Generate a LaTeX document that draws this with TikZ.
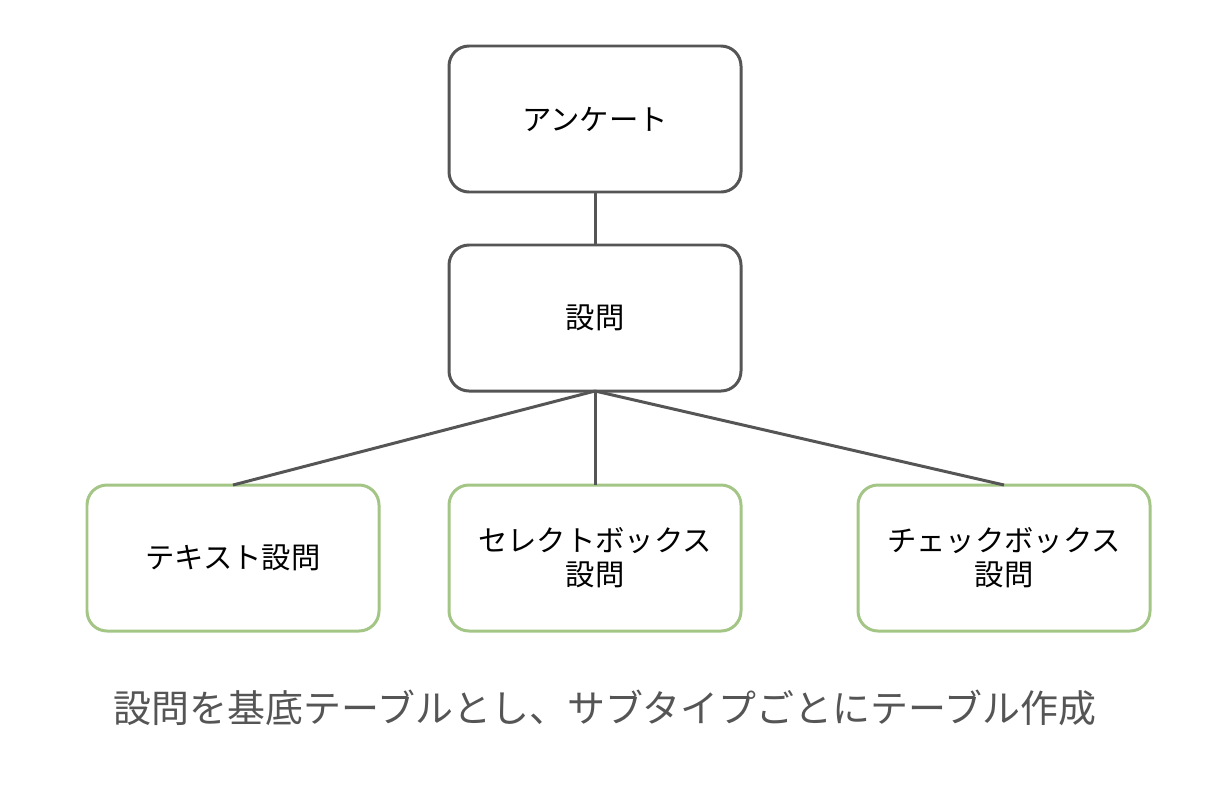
\documentclass[tikz,border=0pt]{standalone}
\usepackage{fontspec}
\setmainfont{Noto Sans CJK JP}
\usetikzlibrary{positioning}
\definecolor{edgegray}{HTML}{555555}
\definecolor{subgreen}{HTML}{A3C585}

\begin{document}
\begin{tikzpicture}[node distance=1cm,
box/.style={draw=edgegray, line width=1.7pt, rounded corners=0.4cm, text centered, text width=5.6cm, minimum width=5.84cm, minimum height=2.92cm, outer sep=0pt, font=\fontsize{16.7pt}{19.5pt}\selectfont},
subbox/.style={box, draw=subgreen},
link/.style={draw=edgegray, line width=1.7pt}
]
\useasboundingbox (0,0) rectangle (24.4,-15.96);

\node (survey) [box] at (11.9,-2.38) {アンケート};
\node (question) [box, below=1.06cm of survey] {設問};
\node (selectq) [subbox, below=1.88cm of question] {セレクトボックス\\設問};
\node (textq) [subbox, left=1.4cm of selectq] {テキスト設問};
\node (checkq) [subbox, right=2.34cm of selectq] {チェックボックス\\設問};
\node (caption) [below=1.05cm of selectq, xshift=0.2cm, text=edgegray, font=\fontsize{21.6pt}{25pt}\selectfont] {設問を基底テーブルとし、サブタイプごとにテーブル作成};

\draw[link] (survey) -- (question);
\draw[link] (question.south) -- (textq.north);
\draw[link] (question.south) -- (selectq.north);
\draw[link] (question.south) -- (checkq.north);

\end{tikzpicture}
\end{document}
